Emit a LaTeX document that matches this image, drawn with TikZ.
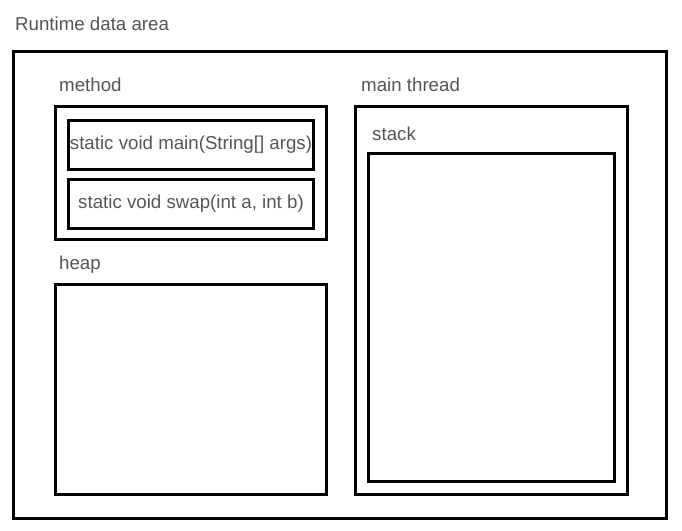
\documentclass[tikz,border=0pt]{standalone}
\usepackage{fontspec}
\setmainfont{Liberation Sans}
\definecolor{labelgray}{RGB}{85,85,85}
\begin{document}
\begin{tikzpicture}[x=1pt,y=-1pt,
  box/.style={draw,line width=3pt},
  lbl/.style={text=labelgray,font=\fontsize{18.7}{21}\selectfont,inner sep=0pt,anchor=base west},
  entry/.style={box,text=labelgray,font=\fontsize{18.7}{21}\selectfont,inner sep=0pt,minimum width=245pt,minimum height=49pt}]
\useasboundingbox (0,0) rectangle (682,530);
\draw [box] (13,51) rectangle (666,518);
\node [lbl] (runtime) at (15,30) {Runtime data area};
\node [lbl] (methodlbl) at (59,91) {method};
\draw [box] (55.5,106) rectangle (326.5,239);
\node [entry] (mainentry) at (191,144.5) {static void main(String[] args)};
\node [entry] (swapentry) at (191,203.5) {static void swap(int a, int b)};
\node [lbl] (heaplbl) at (59,269) {heap};
\draw [box] (55.5,284.5) rectangle (326.5,494.5);
\node [lbl] (threadlbl) at (361,91) {main thread};
\draw [box] (355.5,106) rectangle (627.5,494.5);
\node [lbl] (stacklbl) at (372,140) {stack};
\draw [box] (368.5,153.5) rectangle (614.5,481);
\end{tikzpicture}
\end{document}
